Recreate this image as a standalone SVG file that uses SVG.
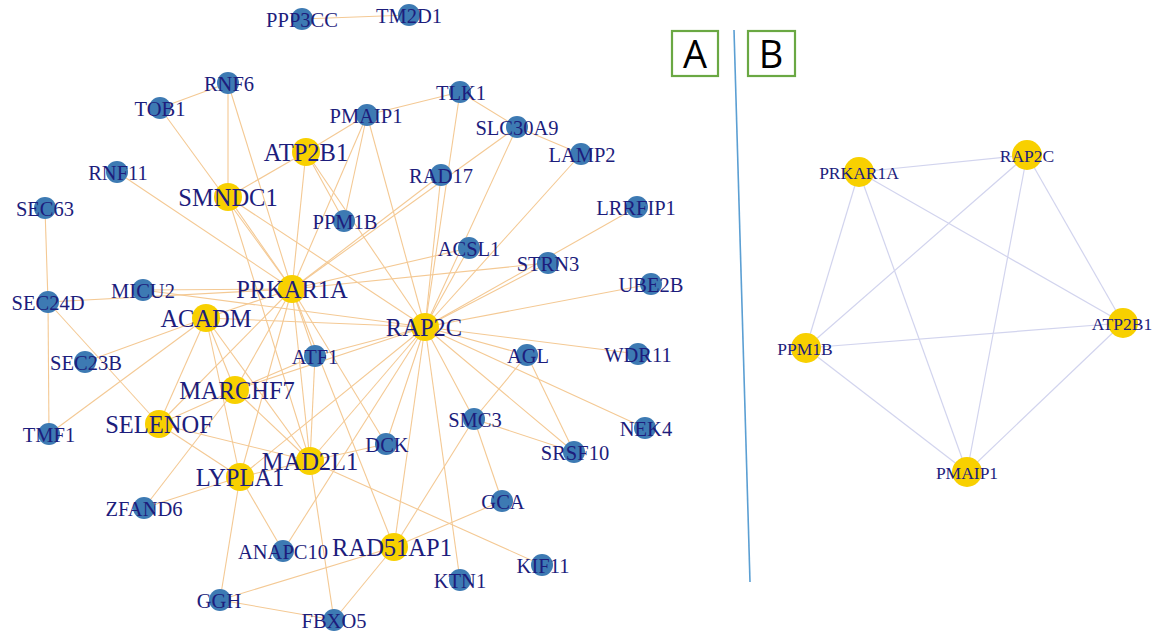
<svg xmlns="http://www.w3.org/2000/svg" width="1160" height="633" viewBox="0 0 1160 633">
  <style>
    .e { stroke: #f4c994; stroke-width: 1.1; fill: none; }
    .eb { stroke: #d2d4ee; stroke-width: 1.2; fill: none; }
    .b { fill: #3d7ab3; }
    .y { fill: #f8d000; }
    .t { font-family: "Liberation Serif", "Times New Roman", serif; fill: #1d1d7c; text-anchor: middle; }
    .ts { font-size: 20.5px; }
    .tl { font-size: 24.5px; }
    .tb { font-size: 17.5px; }
    .panel { fill: #ffffff; stroke: #6aa843; stroke-width: 2.2; }
    .pl { font-family: "Open Sans", "Liberation Sans", sans-serif; font-size: 38px; fill: #000; text-anchor: middle; }
  </style>
  <rect width="1160" height="633" fill="#ffffff"/>

  <!-- panel letters and divider -->
  <g id="panel-a">
    <rect class="panel" x="672" y="31" width="46" height="45"/>
    <text class="pl" x="695" y="68">A</text>
  </g>
  <g id="panel-b">
    <rect class="panel" x="748" y="31" width="47" height="45"/>
    <text class="pl" x="771" y="68">B</text>
  </g>
  <line id="divider" x1="734" y1="30" x2="750" y2="582" stroke="#5b9fd3" stroke-width="1.6"/>

  <!-- connectors, network A -->
  <g id="edges-a" class="e">
    <line x1="302" y1="19" x2="409" y2="15"/>
    <line x1="160" y1="108" x2="228" y2="83"/>
    <line x1="160" y1="108" x2="292" y2="289"/>
    <line x1="228" y1="83" x2="228" y2="197"/>
    <line x1="228" y1="83" x2="292" y2="289"/>
    <line x1="117" y1="172" x2="292" y2="289"/>
    <line x1="228" y1="197" x2="306" y2="152"/>
    <line x1="228" y1="197" x2="292" y2="289"/>
    <line x1="228" y1="197" x2="425" y2="327"/>
    <line x1="228" y1="197" x2="310" y2="461"/>
    <line x1="306" y1="152" x2="367" y2="115"/>
    <line x1="306" y1="152" x2="344" y2="221"/>
    <line x1="306" y1="152" x2="425" y2="327"/>
    <line x1="306" y1="152" x2="292" y2="289"/>
    <line x1="367" y1="115" x2="460" y2="92"/>
    <line x1="367" y1="115" x2="344" y2="221"/>
    <line x1="367" y1="115" x2="292" y2="289"/>
    <line x1="367" y1="115" x2="425" y2="327"/>
    <line x1="460" y1="92" x2="517" y2="127"/>
    <line x1="460" y1="92" x2="425" y2="327"/>
    <line x1="517" y1="127" x2="581" y2="154"/>
    <line x1="517" y1="127" x2="425" y2="327"/>
    <line x1="517" y1="127" x2="292" y2="289"/>
    <line x1="441" y1="175" x2="292" y2="289"/>
    <line x1="441" y1="175" x2="425" y2="327"/>
    <line x1="581" y1="154" x2="425" y2="327"/>
    <line x1="637" y1="207" x2="425" y2="327"/>
    <line x1="548" y1="263" x2="425" y2="327"/>
    <line x1="548" y1="263" x2="292" y2="289"/>
    <line x1="469" y1="248" x2="292" y2="289"/>
    <line x1="469" y1="248" x2="425" y2="327"/>
    <line x1="651" y1="284" x2="425" y2="327"/>
    <line x1="638" y1="354" x2="425" y2="327"/>
    <line x1="527" y1="355" x2="425" y2="327"/>
    <line x1="527" y1="355" x2="474" y2="419"/>
    <line x1="527" y1="355" x2="574" y2="452"/>
    <line x1="645" y1="428" x2="425" y2="327"/>
    <line x1="574" y1="452" x2="474" y2="419"/>
    <line x1="574" y1="452" x2="425" y2="327"/>
    <line x1="474" y1="419" x2="425" y2="327"/>
    <line x1="474" y1="419" x2="502" y2="501"/>
    <line x1="474" y1="419" x2="394" y2="547"/>
    <line x1="143" y1="290" x2="292" y2="289"/>
    <line x1="143" y1="290" x2="425" y2="327"/>
    <line x1="45" y1="208" x2="48" y2="302"/>
    <line x1="48" y1="302" x2="292" y2="289"/>
    <line x1="48" y1="302" x2="49" y2="434"/>
    <line x1="48" y1="302" x2="159" y2="424"/>
    <line x1="85" y1="362" x2="206" y2="318"/>
    <line x1="49" y1="434" x2="206" y2="318"/>
    <line x1="206" y1="318" x2="292" y2="289"/>
    <line x1="206" y1="318" x2="425" y2="327"/>
    <line x1="206" y1="318" x2="235" y2="390"/>
    <line x1="206" y1="318" x2="159" y2="424"/>
    <line x1="206" y1="318" x2="240" y2="477"/>
    <line x1="206" y1="318" x2="310" y2="461"/>
    <line x1="315" y1="356" x2="292" y2="289"/>
    <line x1="315" y1="356" x2="425" y2="327"/>
    <line x1="315" y1="356" x2="235" y2="390"/>
    <line x1="315" y1="356" x2="310" y2="461"/>
    <line x1="235" y1="390" x2="292" y2="289"/>
    <line x1="235" y1="390" x2="425" y2="327"/>
    <line x1="235" y1="390" x2="159" y2="424"/>
    <line x1="235" y1="390" x2="310" y2="461"/>
    <line x1="159" y1="424" x2="310" y2="461"/>
    <line x1="159" y1="424" x2="240" y2="477"/>
    <line x1="159" y1="424" x2="292" y2="289"/>
    <line x1="240" y1="477" x2="144" y2="508"/>
    <line x1="240" y1="477" x2="220" y2="600"/>
    <line x1="240" y1="477" x2="283" y2="551"/>
    <line x1="240" y1="477" x2="310" y2="461"/>
    <line x1="240" y1="477" x2="292" y2="289"/>
    <line x1="240" y1="477" x2="425" y2="327"/>
    <line x1="144" y1="508" x2="235" y2="390"/>
    <line x1="310" y1="461" x2="386" y2="444"/>
    <line x1="310" y1="461" x2="542" y2="565"/>
    <line x1="310" y1="461" x2="334" y2="620"/>
    <line x1="283" y1="551" x2="425" y2="327"/>
    <line x1="310" y1="461" x2="292" y2="289"/>
    <line x1="310" y1="461" x2="425" y2="327"/>
    <line x1="386" y1="444" x2="425" y2="327"/>
    <line x1="386" y1="444" x2="292" y2="289"/>
    <line x1="220" y1="600" x2="394" y2="547"/>
    <line x1="394" y1="547" x2="502" y2="501"/>
    <line x1="220" y1="600" x2="334" y2="620"/>
    <line x1="394" y1="547" x2="334" y2="620"/>
    <line x1="394" y1="547" x2="425" y2="327"/>
    <line x1="394" y1="547" x2="292" y2="289"/>
    <line x1="460" y1="580" x2="425" y2="327"/>
  </g>

  <!-- connectors, network B -->
  <g id="edges-b" class="eb">
    <line x1="859" y1="172" x2="1027" y2="155"/>
    <line x1="859" y1="172" x2="806" y2="348"/>
    <line x1="859" y1="172" x2="967" y2="472"/>
    <line x1="859" y1="172" x2="1123" y2="323"/>
    <line x1="1027" y1="155" x2="806" y2="348"/>
    <line x1="1027" y1="155" x2="967" y2="472"/>
    <line x1="1027" y1="155" x2="1123" y2="323"/>
    <line x1="806" y1="348" x2="1123" y2="323"/>
    <line x1="806" y1="348" x2="967" y2="472"/>
    <line x1="1123" y1="323" x2="967" y2="472"/>
  </g>

  <!-- nodes, network A -->
  <g id="PPP3CC"><circle class="b" cx="302" cy="19" r="11"/><text class="t ts" x="302" y="27">PPP3CC</text></g>
  <g id="TM2D1"><circle class="b" cx="409" cy="15" r="11"/><text class="t ts" x="409" y="23">TM2D1</text></g>
  <g id="RNF6"><circle class="b" cx="228" cy="83" r="11"/><text class="t ts" x="229" y="91">RNF6</text></g>
  <g id="TOB1"><circle class="b" cx="160" cy="108" r="11"/><text class="t ts" x="160" y="116">TOB1</text></g>
  <g id="TLK1"><circle class="b" cx="460" cy="92" r="11"/><text class="t ts" x="461" y="100">TLK1</text></g>
  <g id="PMAIP1"><circle class="b" cx="367" cy="115" r="11"/><text class="t ts" x="366" y="123">PMAIP1</text></g>
  <g id="SLC30A9"><circle class="b" cx="517" cy="127" r="11"/><text class="t ts" x="517" y="135">SLC30A9</text></g>
  <g id="LAMP2"><circle class="b" cx="581" cy="154" r="11"/><text class="t ts" x="582" y="162">LAMP2</text></g>
  <g id="RNF11"><circle class="b" cx="117" cy="172" r="11"/><text class="t ts" x="118" y="180">RNF11</text></g>
  <g id="RAD17"><circle class="b" cx="441" cy="175" r="11"/><text class="t ts" x="441" y="183">RAD17</text></g>
  <g id="LRRFIP1"><circle class="b" cx="637" cy="207" r="11"/><text class="t ts" x="636" y="215">LRRFIP1</text></g>
  <g id="SEC63"><circle class="b" cx="45" cy="208" r="11"/><text class="t ts" x="45" y="216">SEC63</text></g>
  <g id="PPM1B"><circle class="b" cx="344" cy="221" r="11"/><text class="t ts" x="345" y="229">PPM1B</text></g>
  <g id="ACSL1"><circle class="b" cx="469" cy="248" r="11"/><text class="t ts" x="469" y="256">ACSL1</text></g>
  <g id="STRN3"><circle class="b" cx="548" cy="263" r="11"/><text class="t ts" x="548" y="271">STRN3</text></g>
  <g id="UBE2B"><circle class="b" cx="651" cy="284" r="11"/><text class="t ts" x="651" y="292">UBE2B</text></g>
  <g id="MICU2"><circle class="b" cx="143" cy="290" r="11"/><text class="t ts" x="143" y="298">MICU2</text></g>
  <g id="SEC24D"><circle class="b" cx="48" cy="302" r="11"/><text class="t ts" x="48" y="310">SEC24D</text></g>
  <g id="WDR11"><circle class="b" cx="638" cy="354" r="11"/><text class="t ts" x="638" y="362">WDR11</text></g>
  <g id="AGL"><circle class="b" cx="527" cy="355" r="11"/><text class="t ts" x="528" y="363">AGL</text></g>
  <g id="ATF1"><circle class="b" cx="315" cy="356" r="11"/><text class="t ts" x="315" y="364">ATF1</text></g>
  <g id="SEC23B"><circle class="b" cx="85" cy="362" r="11"/><text class="t ts" x="86" y="370">SEC23B</text></g>
  <g id="SMC3"><circle class="b" cx="474" cy="419" r="11"/><text class="t ts" x="475" y="427">SMC3</text></g>
  <g id="NEK4"><circle class="b" cx="645" cy="428" r="11"/><text class="t ts" x="646" y="436">NEK4</text></g>
  <g id="TMF1"><circle class="b" cx="49" cy="434" r="11"/><text class="t ts" x="49" y="442">TMF1</text></g>
  <g id="DCK"><circle class="b" cx="386" cy="444" r="11"/><text class="t ts" x="387" y="452">DCK</text></g>
  <g id="SRSF10"><circle class="b" cx="574" cy="452" r="11"/><text class="t ts" x="575" y="460">SRSF10</text></g>
  <g id="GCA"><circle class="b" cx="502" cy="501" r="11"/><text class="t ts" x="503" y="509">GCA</text></g>
  <g id="ZFAND6"><circle class="b" cx="144" cy="508" r="11"/><text class="t ts" x="144" y="516">ZFAND6</text></g>
  <g id="ANAPC10"><circle class="b" cx="283" cy="551" r="11"/><text class="t ts" x="283" y="559">ANAPC10</text></g>
  <g id="KIF11"><circle class="b" cx="542" cy="565" r="11"/><text class="t ts" x="543" y="573">KIF11</text></g>
  <g id="KTN1"><circle class="b" cx="460" cy="580" r="11"/><text class="t ts" x="460" y="588">KTN1</text></g>
  <g id="GGH"><circle class="b" cx="220" cy="600" r="11"/><text class="t ts" x="219" y="608">GGH</text></g>
  <g id="FBXO5"><circle class="b" cx="334" cy="620" r="11"/><text class="t ts" x="334" y="628">FBXO5</text></g>

  <g id="ATP2B1"><circle class="y" cx="306" cy="152" r="14"/><text class="t tl" x="306" y="161">ATP2B1</text></g>
  <g id="SMNDC1"><circle class="y" cx="228" cy="197" r="14"/><text class="t tl" x="228" y="206">SMNDC1</text></g>
  <g id="PRKAR1A"><circle class="y" cx="292" cy="289" r="14"/><text class="t tl" x="292" y="298">PRKAR1A</text></g>
  <g id="ACADM"><circle class="y" cx="206" cy="318" r="14"/><text class="t tl" x="206" y="327">ACADM</text></g>
  <g id="RAP2C"><circle class="y" cx="425" cy="327" r="14"/><text class="t tl" x="424" y="336">RAP2C</text></g>
  <g id="MARCHF7"><circle class="y" cx="235" cy="390" r="14"/><text class="t tl" x="237" y="399">MARCHF7</text></g>
  <g id="SELENOF"><circle class="y" cx="159" cy="424" r="14"/><text class="t tl" x="159" y="433">SELENOF</text></g>
  <g id="MAD2L1"><circle class="y" cx="310" cy="461" r="14"/><text class="t tl" x="310" y="470">MAD2L1</text></g>
  <g id="LYPLA1"><circle class="y" cx="240" cy="477" r="14"/><text class="t tl" x="240" y="486">LYPLA1</text></g>
  <g id="RAD51AP1"><circle class="y" cx="394" cy="547" r="14"/><text class="t tl" x="392" y="556">RAD51AP1</text></g>

  <!-- nodes, network B -->
  <g id="B-PRKAR1A"><circle class="y" cx="859" cy="172" r="15"/><text class="t tb" x="859" y="179">PRKAR1A</text></g>
  <g id="B-RAP2C"><circle class="y" cx="1027" cy="155" r="15"/><text class="t tb" x="1027" y="162">RAP2C</text></g>
  <g id="B-PPM1B"><circle class="y" cx="806" cy="348" r="15"/><text class="t tb" x="805" y="355">PPM1B</text></g>
  <g id="B-ATP2B1"><circle class="y" cx="1123" cy="323" r="15"/><text class="t tb" x="1122" y="330">ATP2B1</text></g>
  <g id="B-PMAIP1"><circle class="y" cx="967" cy="472" r="15"/><text class="t tb" x="967" y="479">PMAIP1</text></g>
</svg>
